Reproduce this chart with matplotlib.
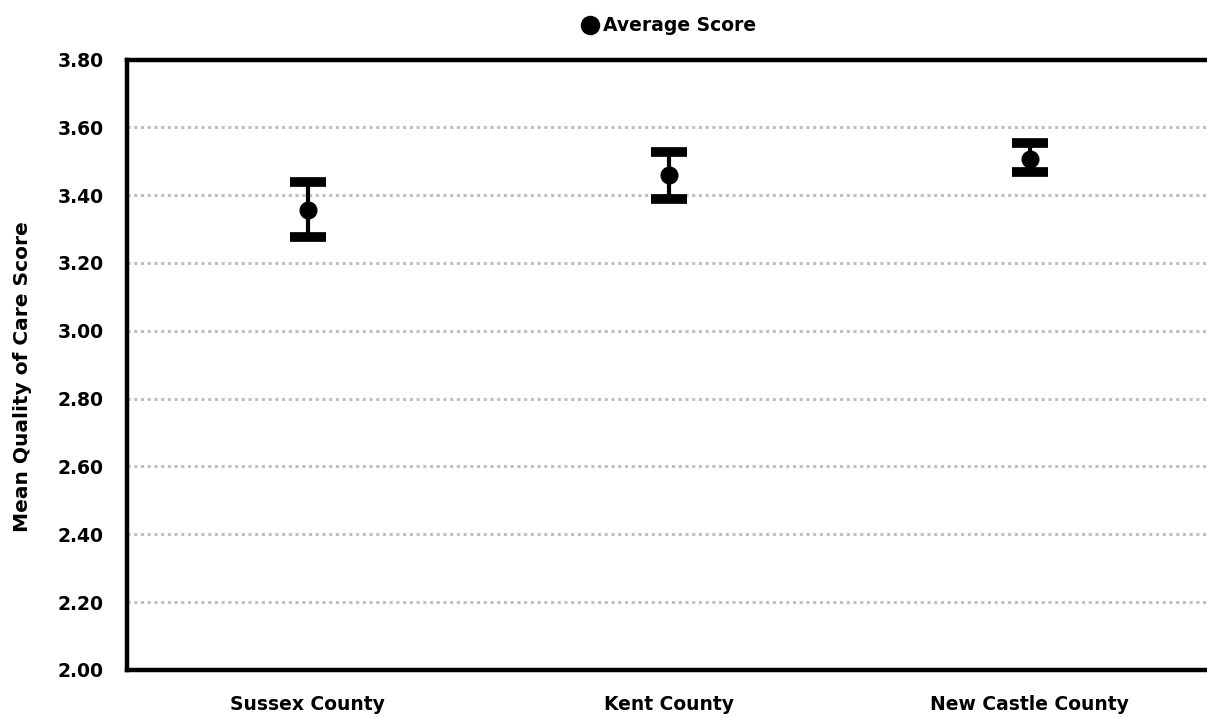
import matplotlib.pyplot as plt
import numpy as np
from matplotlib.lines import Line2D

# Data
counties = ['Sussex County', 'Kent County', 'New Castle County']
avg_score = [3.357, 3.459, 3.507]
err_low = [0.081, 0.069, 0.040]
err_high = [0.081, 0.069, 0.046]

plt.rcParams['font.family'] = 'DejaVu Sans'
plt.rcParams['font.weight'] = 'bold'

fig = plt.figure(figsize=(12.07, 7.17), dpi=100)
ax = fig.add_axes([0.1052, 0.0656, 0.8975, 0.8514])

x = np.arange(len(counties)) + 0.5
ax.errorbar(x, avg_score, yerr=[err_low, err_high], fmt='o', color='black',
            markersize=12, elinewidth=3, capsize=13, capthick=7, zorder=3)

ax.set_xlim(0, 3)
ax.set_ylim(2.0, 3.8)
ticks = np.arange(2.0, 3.81, 0.2)
ax.set_yticks(ticks)
ax.set_yticklabels([f'{v:.2f}' for v in ticks], fontsize=13.5, fontweight='bold')
ax.set_xticks(x)
ax.set_xticklabels(counties, fontsize=13.5, fontweight='bold')
ax.tick_params(axis='y', length=0, pad=17)
ax.tick_params(axis='x', length=0, pad=18)

for v in np.arange(2.2, 3.61, 0.2):
    ax.axhline(v, color='#c0c0c0', linestyle=(0, (1, 1.2)), linewidth=2.2, zorder=1)

for s in ax.spines.values():
    s.set_linewidth(3.2)
    s.set_color('black')

ax.set_ylabel('Mean Quality of Care Score', fontsize=14.5, fontweight='bold')
ax.yaxis.set_label_coords(-0.088, 0.48)

handle = Line2D([], [], marker='o', color='black', linestyle='none', markersize=13)
fig.legend([handle], ['Average Score'], loc='center', bbox_to_anchor=(0.55, 0.964),
           frameon=False, handletextpad=-0.3, prop={'weight': 'bold', 'size': 13.5})

fig.savefig('out.png', dpi=100)
